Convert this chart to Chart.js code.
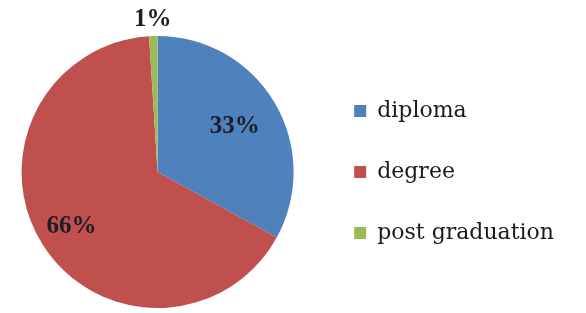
<!DOCTYPE html>
<html>
<head>
<meta charset="utf-8">
<script src="https://cdn.jsdelivr.net/npm/chart.js@4/dist/chart.umd.min.js"></script>
<style>
  html, body { margin: 0; padding: 0; background: #fff; }
  #wrap { width: 586px; height: 313px; }
</style>
</head>
<body>
<div id="wrap"><canvas id="pie"></canvas></div>
<script>
const categories = ['diploma', 'degree', 'post graduation'];
const values = [33, 66, 1];
const colours = ['#4F81BD', '#C0504D', '#9BBB59'];
// how far out each % label sits, as a share of the radius
const labelDist = [0.66, 0.75, 1.12];

// draw the % labels ourselves (no datalabels plugin offline)
const pctLabels = {
  id: 'pctLabels',
  afterDatasetsDraw(chart) {
    const ctx = chart.ctx;
    const meta = chart.getDatasetMeta(0);
    ctx.save();
    ctx.font = 'bold 25px "Liberation Serif", "Times New Roman", serif';
    ctx.fillStyle = '#1d1d2a';
    ctx.textAlign = 'center';
    ctx.textBaseline = 'middle';
    meta.data.forEach((arc, i) => {
      const p = arc.getProps(['x', 'y', 'startAngle', 'endAngle', 'outerRadius'], true);
      const mid = (p.startAngle + p.endAngle) / 2;
      const d = p.outerRadius * labelDist[i];
      ctx.fillText(values[i] + '%', p.x + Math.cos(mid) * d, p.y + Math.sin(mid) * d);
    });
    ctx.restore();
  }
};

new Chart(document.getElementById('pie'), {
  type: 'pie',
  data: {
    labels: categories,
    datasets: [{
      data: values,
      backgroundColor: colours,
      borderWidth: 0
    }]
  },
  options: {
    responsive: true,
    maintainAspectRatio: false,
    animation: false,
    layout: { padding: { top: 36, bottom: 5, left: 0, right: 22 } },
    plugins: {
      tooltip: { enabled: false },
      legend: {
        position: 'right',
        labels: {
          boxWidth: 12,
          boxHeight: 12,
          padding: 39,
          color: '#1a1a1a',
          font: { family: '"DejaVu Serif", serif', size: 22 }
        }
      }
    }
  },
  plugins: [pctLabels]
});
</script>
</body>
</html>
